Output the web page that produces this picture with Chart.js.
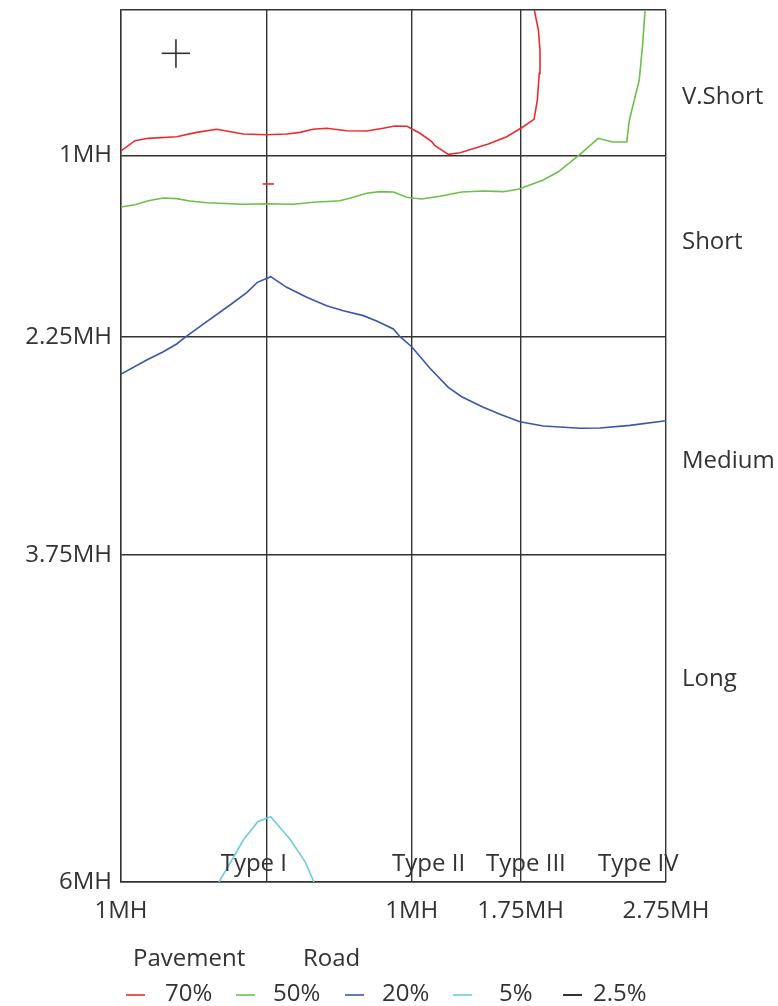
<!DOCTYPE html>
<html>
<head>
<meta charset="utf-8">
<script src="https://cdn.jsdelivr.net/npm/chart.js@4.4.1/dist/chart.umd.min.js"></script>
<style>
  html, body { margin: 0; padding: 0; background: #fff; }
  #wrap { width: 778px; height: 1006px; position: relative; }
</style>
</head>
<body>
<div id="wrap"><canvas id="chart"></canvas></div>
<script>
// Axis ticks (data units) and their labels
const xTicks = [0, 1, 2, 2.75, 3.75];
const xTickLabels = ['1MH', '', '1MH', '1.75MH', '2.75MH'];
const yTicks = [0, 1, 2.25, 3.75, 6];
const yTickLabels = ['', '1MH', '2.25MH', '3.75MH', '6MH'];

// Zone labels on the right, type labels along the bottom
const zoneLabels = ['V.Short', 'Short', 'Medium', 'Long'];
const zoneLabelY = [0.647, 1.645, 3.151, 4.651];
const typeLabels = ['Type I', 'Type II', 'Type III', 'Type IV'];
const typeLabelX = [0.686, 1.865, 2.512, 3.282];

// Iso lines
const red70X = [0, 0.096, 0.188, 0.383, 0.521, 0.658, 0.842, 1.003, 1.140, 1.232, 1.321, 1.415, 1.553, 1.691, 1.803, 1.885, 1.968, 2.057, 2.138, 2.161, 2.252, 2.333, 2.527, 2.654, 2.757, 2.842, 2.865, 2.878, 2.883, 2.872, 2.844];
const red70Y = [0.970, 0.899, 0.883, 0.872, 0.842, 0.821, 0.853, 0.858, 0.853, 0.842, 0.821, 0.814, 0.831, 0.833, 0.814, 0.798, 0.800, 0.848, 0.906, 0.934, 0.993, 0.982, 0.922, 0.872, 0.810, 0.752, 0.619, 0.436, 0.275, 0.138, 0];
const redDashX = [0.975, 1.053];
const redDashY = [1.197, 1.197];

const green50X = [0, 0.096, 0.188, 0.291, 0.383, 0.475, 0.590, 0.842, 1.003, 1.186, 1.323, 1.507, 1.598, 1.691, 1.782, 1.874, 1.966, 2.069, 2.195, 2.344, 2.493, 2.631, 2.734, 2.906, 3.009, 3.158, 3.284, 3.383, 3.480, 3.498, 3.566, 3.590, 3.606];
const green50Y = [1.356, 1.340, 1.312, 1.294, 1.298, 1.314, 1.326, 1.337, 1.333, 1.337, 1.323, 1.312, 1.289, 1.261, 1.250, 1.252, 1.289, 1.300, 1.282, 1.252, 1.245, 1.250, 1.234, 1.170, 1.113, 0.993, 0.883, 0.908, 0.908, 0.757, 0.482, 0.229, 0];

const blue20X = [0, 0.177, 0.291, 0.383, 0.440, 0.566, 0.750, 0.865, 0.938, 1.030, 1.140, 1.278, 1.415, 1.530, 1.667, 1.759, 1.874, 1.920, 2.000, 2.126, 2.252, 2.344, 2.493, 2.608, 2.745, 2.906, 3.158, 3.296, 3.502, 3.750];
const blue20Y = [2.505, 2.408, 2.351, 2.298, 2.252, 2.161, 2.030, 1.945, 1.874, 1.835, 1.908, 1.977, 2.035, 2.069, 2.103, 2.140, 2.195, 2.248, 2.317, 2.465, 2.596, 2.661, 2.734, 2.782, 2.833, 2.862, 2.878, 2.876, 2.858, 2.826];

const cyan5X = [0.674, 0.750, 0.842, 0.941, 1.030, 1.163, 1.266, 1.328];
const cyan5Y = [6.0, 5.871, 5.711, 5.585, 5.551, 5.706, 5.860, 6.0];

// Max-candela cross marker
const crossHX = [0.280, 0.475];
const crossHY = [0.298, 0.298];
const crossVX = [0.378, 0.378];
const crossVY = [0.202, 0.397];

// Legend
const legendTitles = ['Pavement', 'Road'];
const legendLabels = ['70%', '50%', '20%', '5%', '2.5%'];

const RED = '#ee2a2e';
const GREEN = '#6cc04a';
const BLUE = '#3b57a8';
const CYAN = '#6dcde0';
const DARK = '#333333';
const legendColors = [RED, GREEN, BLUE, CYAN, DARK];

const FONT = "'Open Sans', 'Noto Sans', sans-serif";
Chart.defaults.font.family = FONT;
Chart.defaults.font.size = 24;
Chart.defaults.color = DARK;

function zip(xs, ys) {
    return xs.map((x, i) => ({ x: x, y: ys[i] }));
}

function lineSet(label, xs, ys, color) {
    return {
        label: label,
        data: zip(xs, ys),
        borderColor: color,
        backgroundColor: color,
        borderWidth: 1.6,
        showLine: true,
        pointRadius: 0,
        tension: 0
    };
}

// Text labels and legend
const textPlugin = {
    id: 'textPlugin',
    afterDraw(chart) {
        const ctx = chart.ctx;
        const xs = chart.scales.x;
        const ys = chart.scales.y;
        ctx.save();
        ctx.fillStyle = DARK;
        ctx.font = `24px ${FONT}`;
        ctx.textAlign = 'left';
        ctx.textBaseline = 'alphabetic';

        zoneLabels.forEach((t, i) => {
            ctx.fillText(t, xs.getPixelForValue(3.86), ys.getPixelForValue(zoneLabelY[i]));
        });
        typeLabels.forEach((t, i) => {
            ctx.fillText(t, xs.getPixelForValue(typeLabelX[i]), ys.getPixelForValue(5.924));
        });

        // legend
        ctx.fillText(legendTitles[0], 133, 966);
        ctx.fillText(legendTitles[1], 303, 966);
        const dashX = [126, 236, 345, 453, 563];
        const textX = [165, 273, 382, 499, 593];
        legendLabels.forEach((t, i) => {
            ctx.strokeStyle = legendColors[i];
            ctx.lineWidth = i === 4 ? 2 : 1.6;
            ctx.beginPath();
            ctx.moveTo(dashX[i], 995);
            ctx.lineTo(dashX[i] + 19, 995);
            ctx.stroke();
            ctx.fillText(t, textX[i], 1001);
        });
        ctx.restore();
    }
};

const ctx = document.getElementById('chart').getContext('2d');
new Chart(ctx, {
    type: 'scatter',
    data: {
        datasets: [
            lineSet('70%', red70X, red70Y, RED),
            lineSet('70% mark', redDashX, redDashY, RED),
            lineSet('50%', green50X, green50Y, GREEN),
            lineSet('20%', blue20X, blue20Y, BLUE),
            lineSet('5%', cyan5X, cyan5Y, CYAN),
            lineSet('2.5% h', crossHX, crossHY, DARK),
            lineSet('2.5% v', crossVX, crossVY, DARK)
        ]
    },
    options: {
        responsive: true,
        maintainAspectRatio: false,
        animation: false,
        layout: { padding: { left: 0, top: 10, right: 112, bottom: 0 } },
        plugins: {
            legend: { display: false },
            tooltip: { enabled: false }
        },
        scales: {
            x: {
                type: 'linear',
                min: 0,
                max: 3.75,
                afterBuildTicks: (scale) => { scale.ticks = xTicks.map(v => ({ value: v })); },
                afterFit: (scale) => {
                    scale.height = 124;
                    scale.paddingLeft = 0;
                    scale.paddingRight = 0;
                },
                ticks: {
                    padding: 15,
                    maxRotation: 0,
                    autoSkip: false,
                    callback: (v) => xTickLabels[xTicks.indexOf(v)] ?? ''
                },
                grid: { color: DARK, lineWidth: 1.4, drawTicks: false },
                border: { color: DARK, width: 1.4 }
            },
            y: {
                type: 'linear',
                reverse: true,
                min: 0,
                max: 6,
                afterBuildTicks: (scale) => { scale.ticks = yTicks.map(v => ({ value: v })); },
                afterFit: (scale) => {
                    scale.width = 121;
                    scale.paddingTop = 0;
                    scale.paddingBottom = 0;
                },
                ticks: {
                    padding: 9,
                    autoSkip: false,
                    callback: (v) => yTickLabels[yTicks.indexOf(v)] ?? ''
                },
                grid: { color: DARK, lineWidth: 1.4, drawTicks: false },
                border: { color: DARK, width: 1.4 }
            }
        }
    },
    plugins: [textPlugin]
});
</script>
</body>
</html>
